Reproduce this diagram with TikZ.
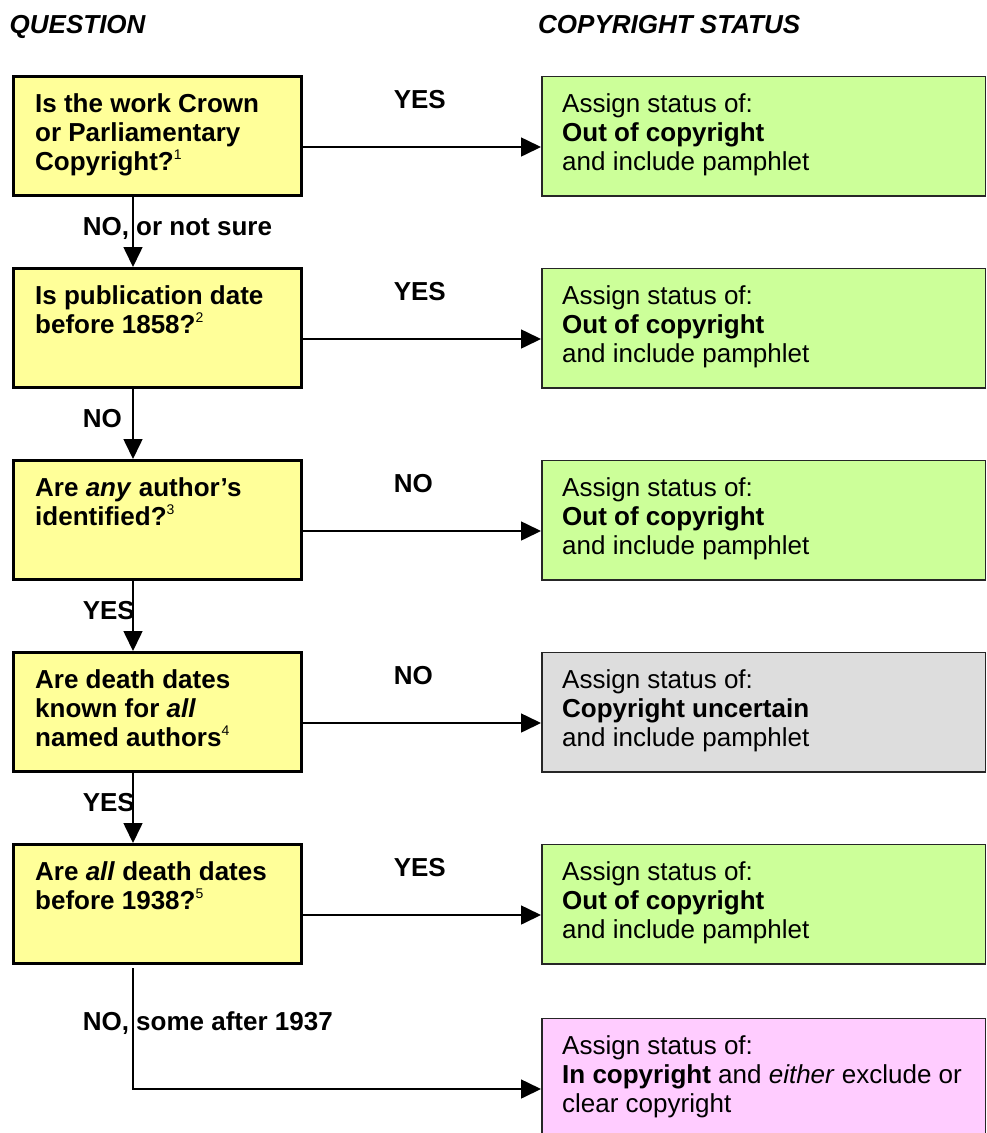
\documentclass[tikz,border=0pt]{standalone}
\usepackage{fontspec}
\setmainfont{Liberation Sans}
\usepackage{tikz}
\usetikzlibrary{arrows.meta,positioning}
\definecolor{qyellow}{HTML}{FFFF99}
\definecolor{sgreen}{HTML}{CCFF99}
\definecolor{sgrey}{HTML}{DDDDDD}
\definecolor{spink}{HTML}{FFCCFF}
\newcommand{\fnote}[1]{\raisebox{11pt}{\fontsize{14}{14}\selectfont\mdseries #1}}
\tikzstyle{head} = [anchor=base west, inner sep=0pt, font=\fontsize{26}{29}\selectfont\bfseries\itshape]
\tikzstyle{qbox} = [draw, line width=3pt, fill=qyellow, minimum width=288pt, minimum height=119pt, inner sep=0pt]
\tikzstyle{sbox} = [draw=black!85, line width=1.5pt, minimum width=443.5pt, minimum height=119.5pt, inner sep=0pt]
\tikzstyle{qtext} = [anchor=north west, inner sep=0pt, align=left, font=\fontsize{26}{29}\selectfont\bfseries]
\tikzstyle{stext} = [anchor=north west, inner sep=0pt, align=left, font=\fontsize{26}{29}\selectfont]
\tikzstyle{lab} = [anchor=base west, inner sep=0pt, font=\fontsize{26}{29}\selectfont\bfseries]
\tikzstyle{line} = [draw, line width=1.6pt, -{Triangle[length=20pt,width=19pt]}]

\begin{document}
\begin{tikzpicture}[x=1pt, y=-1pt]
      \useasboundingbox (0,0) rectangle (987,1133);

      % headings
      \node[head] (hq) at (9.5,33) {QUESTION};
      \node[head] (hs) at (538,33) {COPYRIGHT STATUS};

      % questions
      \node[qbox] (q1) at (157.5,136) {};
      \node[qbox] (q2) at (157.5,328) {};
      \node[qbox] (q3) at (157.5,520) {};
      \node[qbox] (q4) at (157.5,712) {};
      \node[qbox] (q5) at (157.5,904) {};

      \node[qtext, below right=18pt and 23pt of q1.north west] (t1) {Is the work Crown\\or Parliamentary\\Copyright?\fnote{1}};
      \node[qtext, below right=18pt and 23pt of q2.north west] (t2) {Is publication date\\before 1858?\fnote{2}};
      \node[qtext, below right=18pt and 23pt of q3.north west] (t3) {Are \textit{any} author’s\\identified?\fnote{3}};
      \node[qtext, below right=18pt and 23pt of q4.north west] (t4) {Are death dates\\known for \textit{all}\\named authors\fnote{4}};
      \node[qtext, below right=18pt and 23pt of q5.north west] (t5) {Are \textit{all} death dates\\before 1938?\fnote{5}};

      % status boxes
      \node[sbox, fill=sgreen] (r1) at (763.5,136) {};
      \node[sbox, fill=sgreen] (r2) at (763.5,328) {};
      \node[sbox, fill=sgreen] (r3) at (763.5,520) {};
      \node[sbox, fill=sgrey]  (r4) at (763.5,712) {};
      \node[sbox, fill=sgreen] (r5) at (763.5,904) {};
      \node[sbox, fill=spink]  (r6) at (763.5,1078) {};

      \node[stext, below right=18pt and 21pt of r1.north west] (s1) {Assign status of:\\\textbf{Out of copyright}\\and include pamphlet};
      \node[stext, below right=18pt and 21pt of r2.north west] (s2) {Assign status of:\\\textbf{Out of copyright}\\and include pamphlet};
      \node[stext, below right=18pt and 21pt of r3.north west] (s3) {Assign status of:\\\textbf{Out of copyright}\\and include pamphlet};
      \node[stext, below right=18pt and 21pt of r4.north west] (s4) {Assign status of:\\\textbf{Copyright uncertain}\\and include pamphlet};
      \node[stext, below right=18pt and 21pt of r5.north west] (s5) {Assign status of:\\\textbf{Out of copyright}\\and include pamphlet};
      \node[stext, below right=18pt and 21pt of r6.north west] (s6) {Assign status of:\\\textbf{In copyright} and \textit{either} exclude or\\clear copyright};

      % yes / no to the right
      \draw[line] ([yshift=-11pt]q1.east) -- node[lab, xshift=-29pt, yshift=39pt] {YES} ([yshift=-11pt]r1.west);
      \draw[line] ([yshift=-11pt]q2.east) -- node[lab, xshift=-29pt, yshift=39pt] {YES} ([yshift=-11pt]r2.west);
      \draw[line] ([yshift=-11pt]q3.east) -- node[lab, xshift=-29pt, yshift=39pt] {NO} ([yshift=-11pt]r3.west);
      \draw[line] ([yshift=-11pt]q4.east) -- node[lab, xshift=-29pt, yshift=39pt] {NO} ([yshift=-11pt]r4.west);
      \draw[line] ([yshift=-11pt]q5.east) -- node[lab, xshift=-29pt, yshift=39pt] {YES} ([yshift=-11pt]r5.west);

      % downwards
      \draw[line] ([xshift=-24.5pt]q1.south) -- node[lab, xshift=-51pt, yshift=-3pt] {NO, or not sure} ([xshift=-24.5pt]q2.north);
      \draw[line] ([xshift=-24.5pt]q2.south) -- node[lab, xshift=-51pt, yshift=-3pt] {NO} ([xshift=-24.5pt]q3.north);
      \draw[line] ([xshift=-24.5pt]q3.south) -- node[lab, xshift=-51pt, yshift=-3pt] {YES} ([xshift=-24.5pt]q4.north);
      \draw[line] ([xshift=-24.5pt]q4.south) -- node[lab, xshift=-51pt, yshift=-3pt] {YES} ([xshift=-24.5pt]q5.north);
      \draw[line] ([xshift=-24.5pt,yshift=-3pt]q5.south) |- node[lab, pos=0.25, xshift=-51pt, yshift=-1.5pt] {NO, some after 1937} ([yshift=-11pt]r6.west);
    \end{tikzpicture}
\end{document}
